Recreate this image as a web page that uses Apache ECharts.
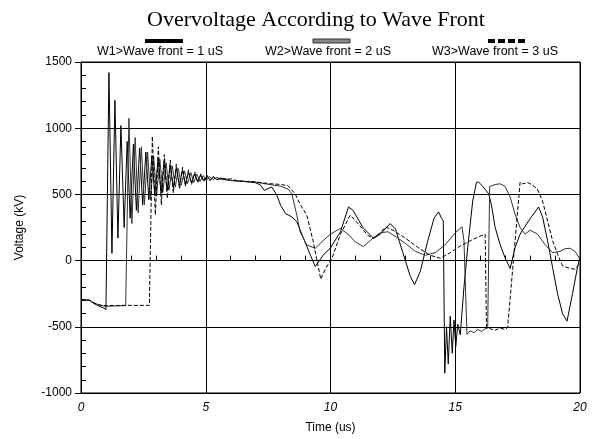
<!DOCTYPE html>
<html>
<head>
<meta charset="utf-8">
<script src="https://cdn.jsdelivr.net/npm/echarts@6/dist/echarts.min.js"></script>
<style>
  html, body { margin: 0; padding: 0; background: #fff; }
  #chart { width: 595px; height: 439px; }
</style>
</head>
<body>
<div id="chart"></div>
<script>
// legend labels
const seriesNames = ['W1>Wave front = 1 uS', 'W2>Wave front = 2 uS', 'W3>Wave front = 3 uS']

// [time (us), voltage (kV)]
const w1Data = [
  [0, -295], [0.35, -300], [0.5, -322], [0.7, -342], [0.9, -358], [1.0, -370],
  [1.12, 1420], [1.24, 55], [1.36, 1210], [1.48, 170], [1.6, 1020], [1.73, 250],
  [1.85, 900], [1.97, 320], [2.1, 880], [2.22, 380], [2.35, 850], [2.47, 420],
  [2.6, 820], [2.72, 460], [2.84, 790], [2.96, 490], [3.09, 770], [3.21, 510],
  [3.33, 750], [3.45, 530], [3.57, 720], [3.7, 550], [3.82, 700], [3.94, 570],
  [4.06, 680], [4.18, 580], [4.3, 665], [4.43, 590], [4.55, 655], [4.67, 598],
  [4.8, 645], [4.92, 605], [5.05, 638], [5.17, 610], [5.3, 630], [5.45, 612],
  [5.6, 622], [5.8, 610], [6.0, 605], [6.5, 598], [7.0, 588], [7.2, 570],
  [7.35, 530], [7.5, 545], [7.65, 555], [7.85, 493], [8.0, 418], [8.2, 355],
  [8.45, 330], [8.65, 293], [8.92, 168], [9.19, 43], [9.39, -45], [9.7, 40],
  [9.99, 93], [10.4, 218], [10.72, 405], [10.9, 380], [11.3, 250], [11.73, 168],
  [12.0, 200], [12.39, 280], [12.6, 240], [12.9, 60], [13.2, -120], [13.37, -182],
  [13.6, -80], [13.9, 150], [14.15, 320], [14.33, 368], [14.45, 320], [14.52, 300],
  [14.58, -850], [14.65, -500], [14.72, -780], [14.8, -420], [14.88, -700], [14.95, -450],
  [15.02, -650], [15.1, -480], [15.2, -560], [15.35, -200], [15.5, 100], [15.7, 450],
  [15.85, 590], [15.94, 593], [16.1, 560], [16.34, 505], [16.45, 420], [16.6, 250],
  [16.8, 120], [17.0, 20], [17.2, -60], [17.4, 100], [17.6, 200], [17.8, 260],
  [18.05, 330], [18.34, 405], [18.5, 330], [18.7, 150], [18.9, -50], [19.1, -250],
  [19.3, -400], [19.48, -457], [19.7, -250], [19.9, -50], [20, 30]
]

const w2Data = [
  [0, -295], [0.35, -300], [0.5, -318], [0.7, -333], [0.9, -343], [1.0, -345],
  [1.79, -340], [1.92, 1075], [2.04, 280], [2.17, 930], [2.29, 360], [2.42, 860],
  [2.54, 420], [2.67, 820], [2.79, 460], [2.91, 790], [3.03, 490], [3.16, 765],
  [3.28, 515], [3.41, 740], [3.53, 535], [3.66, 715], [3.78, 555], [3.9, 695],
  [4.02, 570], [4.15, 678], [4.27, 582], [4.4, 665], [4.52, 590], [4.64, 652],
  [4.77, 598], [4.9, 643], [5.02, 605], [5.15, 635], [5.3, 612], [5.45, 628],
  [5.6, 612], [5.8, 620], [6.0, 605], [6.5, 600], [7.0, 592], [7.45, 578],
  [8.0, 562], [8.3, 540], [8.45, 505], [8.65, 343], [8.78, 218], [9.05, 118],
  [9.39, 93], [9.7, 150], [10.0, 200], [10.39, 243], [10.7, 200], [11.0, 140],
  [11.32, 106], [11.7, 170], [12.0, 210], [12.3, 218], [12.7, 170], [13.0, 130],
  [13.4, 70], [13.8, 40], [14.2, 60], [14.6, 120], [15.0, 210], [15.27, 255],
  [15.35, 150], [15.47, -557], [15.6, -530], [15.75, -545], [15.9, -520], [16.05, -535],
  [16.2, -515], [16.3, -510], [16.38, 560], [16.6, 575], [16.8, 580], [17.0, 560],
  [17.2, 480], [17.4, 350], [17.6, 250], [17.8, 200], [18.0, 230], [18.3, 200],
  [18.6, 120], [18.9, 60], [19.2, 70], [19.4, 90], [19.6, 93], [19.8, 70], [20, 10]
]

const w3Data = [
  [0, -295], [0.35, -300], [0.5, -318], [0.7, -333], [0.9, -340], [1.0, -340],
  [1.79, -338], [2.74, -338], [2.86, 940], [2.98, 345], [3.1, 860], [3.22, 420],
  [3.34, 800], [3.46, 470], [3.58, 760], [3.7, 510], [3.82, 730], [3.95, 540],
  [4.07, 705], [4.19, 560], [4.31, 685], [4.43, 575], [4.56, 668], [4.68, 588],
  [4.8, 655], [4.92, 596], [5.05, 645], [5.17, 603], [5.3, 636], [5.45, 608],
  [5.6, 628], [5.8, 612], [6.0, 618], [6.3, 600], [7.0, 595], [7.5, 582],
  [8.0, 575], [8.3, 565], [8.58, 505], [8.8, 420], [9.05, 343], [9.3, 150],
  [9.61, -140], [9.8, -60], [10.06, 18], [10.4, 200], [10.79, 343], [11.1, 280],
  [11.5, 190], [11.73, 168], [12.0, 210], [12.2, 255], [12.5, 230], [13.0, 170],
  [13.5, 100], [14.0, 40], [14.4, 18], [14.8, 60], [15.2, 110], [15.6, 150],
  [16.0, 185], [16.2, 198], [16.25, -500], [16.4, -515], [16.6, -525], [16.8, -510],
  [17.0, -520], [17.1, -505], [17.6, 593], [17.7, 580], [17.9, 590], [18.1, 570],
  [18.28, 543], [18.5, 450], [18.7, 300], [18.9, 150], [19.1, 50], [19.3, -40],
  [19.6, -60], [19.8, -65], [20, -20]
]

const chart = echarts.init(document.getElementById('chart'), null, { renderer: 'canvas' })

const labelFont = 'Liberation Sans, Arial, sans-serif'
const black = '#000'

chart.setOption({
  animation: false,
  backgroundColor: '#fff',
  title: {
    text: 'Overvoltage According to Wave Front',
    left: 311,
    textAlign: 'center',
    top: 4,
    textStyle: { fontFamily: 'Liberation Serif, Times New Roman, serif', fontSize: 22, fontWeight: 'normal', color: black }
  },
  graphic: [
    // legend samples above the labels
    { type: 'rect', shape: { x: 145, y: 39, width: 38, height: 4 }, style: { fill: '#000' } },
    { type: 'rect', shape: { x: 313, y: 39, width: 37, height: 4 }, style: { fill: '#888', stroke: '#333', lineWidth: 1 } },
    { type: 'line', shape: { x1: 488, y1: 41, x2: 525, y2: 41 }, style: { stroke: '#000', lineWidth: 4, lineDash: [7, 3] } },
    { type: 'text', left: 97, top: 45, style: { text: seriesNames[0], font: '12.5px ' + labelFont, fill: black } },
    { type: 'text', left: 265, top: 45, style: { text: seriesNames[1], font: '12.5px ' + labelFont, fill: black } },
    { type: 'text', left: 432, top: 45, style: { text: seriesNames[2], font: '12.5px ' + labelFont, fill: black } }
  ],
  grid: {
    left: 81,
    right: 15,
    top: 62,
    bottom: 43,
    show: true,
    borderColor: black,
    borderWidth: 1
  },
  xAxis: [{
    type: 'value',
    min: 0,
    max: 20,
    interval: 5,
    name: 'Time (us)',
    nameLocation: 'middle',
    nameGap: 29,
    nameTextStyle: { fontFamily: labelFont, fontSize: 12, color: black },
    axisLine: { lineStyle: { color: black } },
    axisTick: { inside: false, length: 6, lineStyle: { color: black } },
    axisLabel: { fontFamily: labelFont, fontSize: 12, fontStyle: 'italic', color: black, margin: 9 },
    splitLine: { show: true, lineStyle: { color: black, width: 1 } }
  }, {
    type: 'value',
    min: 0,
    max: 20,
    interval: 1,
    position: 'bottom',
    axisLine: { show: false },
    axisTick: { inside: true, length: 5, lineStyle: { color: black } },
    axisLabel: { show: false },
    splitLine: { show: false }
  }],
  yAxis: [{
    type: 'value',
    min: -1000,
    max: 1500,
    interval: 500,
    name: 'Voltage (kV)',
    nameLocation: 'middle',
    nameRotate: 90,
    nameGap: 55,
    nameTextStyle: { fontFamily: labelFont, fontSize: 12, color: black },
    axisLine: { lineStyle: { color: black } },
    axisTick: { inside: false, length: 6, lineStyle: { color: black } },
    axisLabel: { fontFamily: labelFont, fontSize: 12, color: black, margin: 9, formatter: v => String(v) },
    splitLine: { show: true, lineStyle: { color: black, width: 1 } }
  }, {
    type: 'value',
    min: -1000,
    max: 1500,
    interval: 100,
    position: 'left',
    axisLine: { show: false },
    axisTick: { inside: true, length: 5, lineStyle: { color: black } },
    axisLabel: { show: false },
    splitLine: { show: false }
  }],
  series: [{
    name: seriesNames[0],
    type: 'line',
    data: w1Data,
    showSymbol: false,
    lineStyle: { color: '#000', width: 1 }
  }, {
    name: seriesNames[1],
    type: 'line',
    data: w2Data,
    showSymbol: false,
    lineStyle: { color: '#333', width: 1 }
  }, {
    name: seriesNames[2],
    type: 'line',
    data: w3Data,
    showSymbol: false,
    lineStyle: { color: '#000', width: 1, type: [4, 2] }
  }]
})
</script>
</body>
</html>
